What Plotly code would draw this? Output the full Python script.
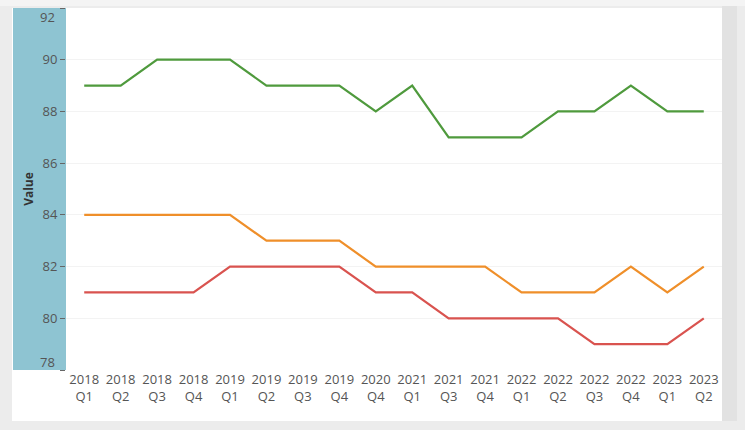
import plotly.graph_objects as go

categories = ["2018<br>Q1", "2018<br>Q2", "2018<br>Q3", "2018<br>Q4", "2019<br>Q1", "2019<br>Q2",
              "2019<br>Q3", "2019<br>Q4", "2020<br>Q4", "2021<br>Q1", "2021<br>Q3", "2021<br>Q4",
              "2022<br>Q1", "2022<br>Q2", "2022<br>Q3", "2022<br>Q4", "2023<br>Q1", "2023<br>Q2"]
green_values = [89, 89, 90, 90, 90, 89, 89, 89, 88, 89, 87, 87, 87, 88, 88, 89, 88, 88]
orange_values = [84, 84, 84, 84, 84, 83, 83, 83, 82, 82, 82, 82, 81, 81, 81, 82, 81, 82]
red_values = [81, 81, 81, 81, 82, 82, 82, 82, 81, 81, 80, 80, 80, 80, 79, 79, 79, 80]
y_ticks = [78, 80, 82, 84, 86, 88, 90, 92]
y_labels = ["", "80", "82", "84", "86", "88", "90", ""]

W, H = 745, 430
ml, mr, mt, mb = 66, 23, 8, 60
pw, ph = W - ml - mr, H - mt - mb

def px(x):
    return (x - ml) / pw

def py(y):
    return (H - mb - y) / ph

fig = go.Figure()
x_idx = list(range(len(categories)))
for vals, col in [(green_values, "#4f9a3d"), (orange_values, "#ef8f2a"), (red_values, "#d9534f")]:
    fig.add_trace(go.Scatter(x=x_idx, y=vals, mode="lines",
                             line=dict(color=col, width=2.2), showlegend=False,
                             hoverinfo="skip"))

annotations = [
    dict(xref="paper", yref="y", x=0, y=92, text="92", showarrow=False, xanchor="right",
         xshift=-9, yshift=-9, font=dict(size=13, color="#555555")),
    dict(xref="paper", yref="y", x=0, y=78, text="78", showarrow=False, xanchor="right",
         xshift=-9, yshift=8, font=dict(size=13, color="#555555")),
]

fig.update_layout(
    width=W, height=H,
    margin=dict(l=ml, r=mr, t=mt, b=mb, autoexpand=False),
    paper_bgcolor="#ececec",
    plot_bgcolor="white",
    font=dict(family="Open Sans", color="#555555", size=12),
    annotations=annotations,
    shapes=[
        dict(type="rect", xref="paper", yref="paper", x0=px(722), x1=px(737), y0=py(421), y1=py(0),
             fillcolor="#e2e2e2", line=dict(width=0), layer="below"),
        dict(type="rect", xref="paper", yref="paper", x0=px(12), x1=px(722), y0=py(421), y1=py(8),
             fillcolor="white", line=dict(width=0), layer="below"),
        dict(type="rect", xref="paper", yref="paper", x0=px(13), x1=px(66), y0=py(370), y1=py(8),
             fillcolor="#8ec4d2", line=dict(width=0), layer="below"),
        dict(type="rect", xref="paper", yref="paper", x0=px(0), x1=px(745), y0=py(6), y1=py(0),
             fillcolor="#f4f4f4", line=dict(width=0), layer="below"),
    ],
    xaxis=dict(
        range=[-0.5, len(categories) - 0.5],
        tickmode="array", tickvals=x_idx, ticktext=categories,
        showgrid=False, zeroline=False, showline=False, automargin=False,
        tickfont=dict(size=13, color="#555555"),
        ticks="",
    ),
    yaxis=dict(
        range=[78, 92],
        tickmode="array", tickvals=y_ticks, ticktext=y_labels,
        showgrid=True, gridcolor="#f3f3f3", gridwidth=1,
        zeroline=False, showline=False, automargin=False,
        ticks="outside", ticklen=5, tickcolor="#666666",
        tickfont=dict(size=13, color="#555555"),
        title=dict(text="<b>Value</b>", font=dict(size=12, color="#333333"), standoff=6),
    ),
)

fig.write_html("out.html", config={"displayModeBar": False},
               post_script="document.body.style.margin='0';document.body.style.overflow='hidden';")
